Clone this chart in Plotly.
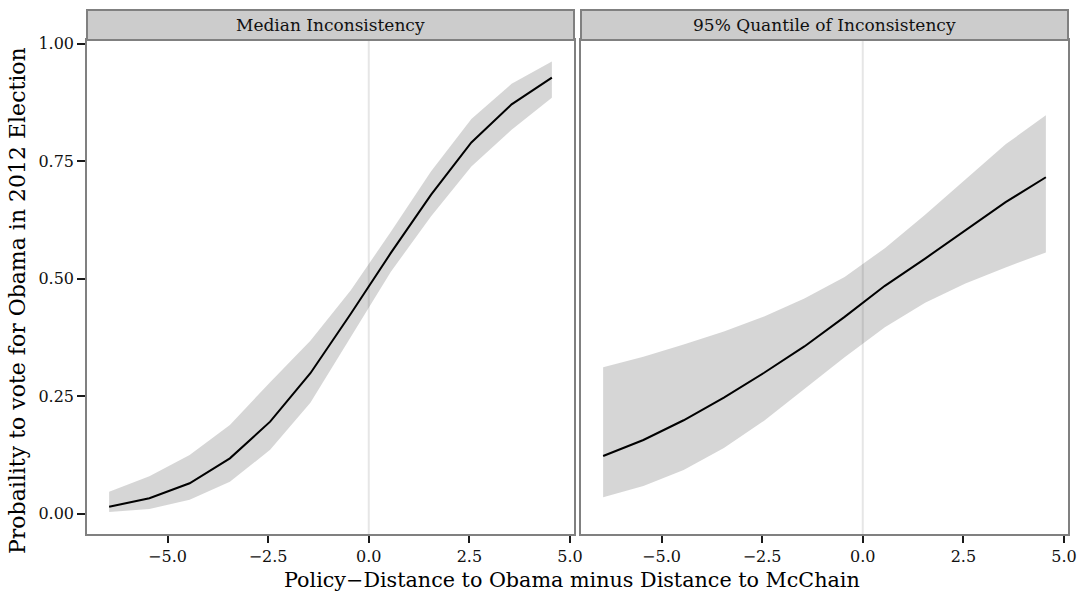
import plotly.graph_objects as go

# Predicted probability of an Obama vote by policy-distance difference
x_vals = [-6.45, -5.45, -4.45, -3.45, -2.45, -1.45, -0.45, 0.55, 1.55, 2.55, 3.55, 4.55]

median_fit = [0.015, 0.033, 0.065, 0.118, 0.196, 0.299, 0.425, 0.555, 0.679, 0.790, 0.871, 0.928]
median_lo = [0.004, 0.010, 0.030, 0.068, 0.136, 0.236, 0.375, 0.515, 0.633, 0.739, 0.817, 0.885]
median_hi = [0.047, 0.080, 0.125, 0.189, 0.280, 0.368, 0.475, 0.600, 0.729, 0.840, 0.915, 0.962]

q95_fit = [0.123, 0.157, 0.199, 0.247, 0.300, 0.356, 0.419, 0.485, 0.543, 0.603, 0.663, 0.716]
q95_lo = [0.035, 0.059, 0.093, 0.140, 0.198, 0.265, 0.333, 0.397, 0.449, 0.490, 0.524, 0.556]
q95_hi = [0.312, 0.334, 0.360, 0.388, 0.420, 0.458, 0.504, 0.565, 0.636, 0.712, 0.786, 0.848]

panel_titles = ["Median Inconsistency", "95% Quantile of Inconsistency"]
x_ticks = [-5.0, -2.5, 0.0, 2.5, 5.0]
x_tick_text = ["\u22125.0", "\u22122.5", "0.0", "2.5", "5.0"]
y_ticks = [0.0, 0.25, 0.5, 0.75, 1.0]
y_tick_text = ["0.00", "0.25", "0.50", "0.75", "1.00"]

FONT = "DejaVu Serif"
W, H = 1078, 596
M_L, M_R, M_T, M_B = 87, 10, 40, 62
plot_w = W - M_L - M_R
plot_h = H - M_T - M_B
gap = 7
panel_w = (plot_w - gap) / 2
domains = [[0, panel_w / plot_w], [(panel_w + gap) / plot_w, 1]]
strip_h = 30 / plot_h

fig = go.Figure()

series = [(median_fit, median_lo, median_hi), (q95_fit, q95_lo, q95_hi)]
for i, (fit, lo, hi) in enumerate(series):
    xa = "x" if i == 0 else "x2"
    ya = "y" if i == 0 else "y2"
    fig.add_trace(go.Scatter(
        x=x_vals + x_vals[::-1], y=hi + lo[::-1],
        fill="toself", fillcolor="rgba(51,51,51,0.2)",
        line=dict(width=0), mode="lines", hoverinfo="skip",
        showlegend=False, xaxis=xa, yaxis=ya,
    ))
    fig.add_trace(go.Scatter(
        x=x_vals, y=fit, mode="lines",
        line=dict(color="black", width=2),
        showlegend=False, xaxis=xa, yaxis=ya,
    ))

tick_font = dict(family=FONT, size=16, color="#111111")
axis_common = dict(
    range=[-7.0, 5.1], tickvals=x_ticks, ticktext=x_tick_text,
    showgrid=False, zeroline=False, showline=True, mirror=True,
    linecolor="#808080", linewidth=1.5, automargin=False,
    ticks="outside", ticklen=7, tickwidth=2, tickcolor="#1a1a1a",
    tickfont=tick_font,
)
yaxis_common = dict(
    range=[-0.043, 1.008], tickvals=y_ticks, ticktext=y_tick_text,
    showgrid=False, zeroline=False, showline=True, mirror=True,
    linecolor="#808080", linewidth=1.5, automargin=False,
    tickwidth=2, tickcolor="#1a1a1a", tickfont=tick_font,
)

fig.update_layout(
    width=W, height=H,
    margin=dict(l=M_L, r=M_R, t=M_T, b=M_B, autoexpand=False),
    paper_bgcolor="white", plot_bgcolor="white",
    xaxis=dict(domain=domains[0], anchor="y", **axis_common),
    xaxis2=dict(domain=domains[1], anchor="y2", **axis_common),
    yaxis=dict(domain=[0, 1], anchor="x", ticks="outside", ticklen=8, **yaxis_common),
    yaxis2=dict(domain=[0, 1], anchor="x2", ticks="", showticklabels=False, **yaxis_common),
)

shapes = []
annotations = []
for i, (d, title) in enumerate(zip(domains, panel_titles)):
    xref = "x" if i == 0 else "x2"
    yref = "y domain" if i == 0 else "y2 domain"
    # reference line at zero distance difference
    shapes.append(dict(type="line", xref=xref, yref=yref, x0=0, x1=0, y0=0, y1=1,
                       line=dict(color="#e6e6e6", width=2), layer="below"))
    # facet strip
    shapes.append(dict(type="rect", xref="paper", yref="paper",
                       x0=d[0], x1=d[1], y0=1, y1=1 + strip_h,
                       fillcolor="#cccccc", line=dict(color="#808080", width=2)))
    annotations.append(dict(text=title, xref="paper", yref="paper",
                            x=(d[0] + d[1]) / 2, y=1 + strip_h / 2,
                            xanchor="center", yanchor="middle", showarrow=False,
                            font=dict(family=FONT, size=17, color="#111111")))

annotations.append(dict(text="Policy\u2212Distance to Obama minus Distance to McChain",
                        xref="paper", yref="paper", x=(572 - M_L) / plot_w,
                        y=-(580 - (H - M_B)) / plot_h,
                        xanchor="center", yanchor="middle", showarrow=False,
                        font=dict(family=FONT, size=20.7, color="black")))
annotations.append(dict(text="Probaility to vote for Obama in 2012 Election",
                        xref="paper", yref="paper", x=-(M_L - 18) / plot_w,
                        y=((H - M_B) - 301) / plot_h,
                        xanchor="center", yanchor="middle", showarrow=False, textangle=-90,
                        font=dict(family=FONT, size=22, color="black")))

fig.update_layout(shapes=shapes, annotations=annotations)
fig.write_html("out.html")
